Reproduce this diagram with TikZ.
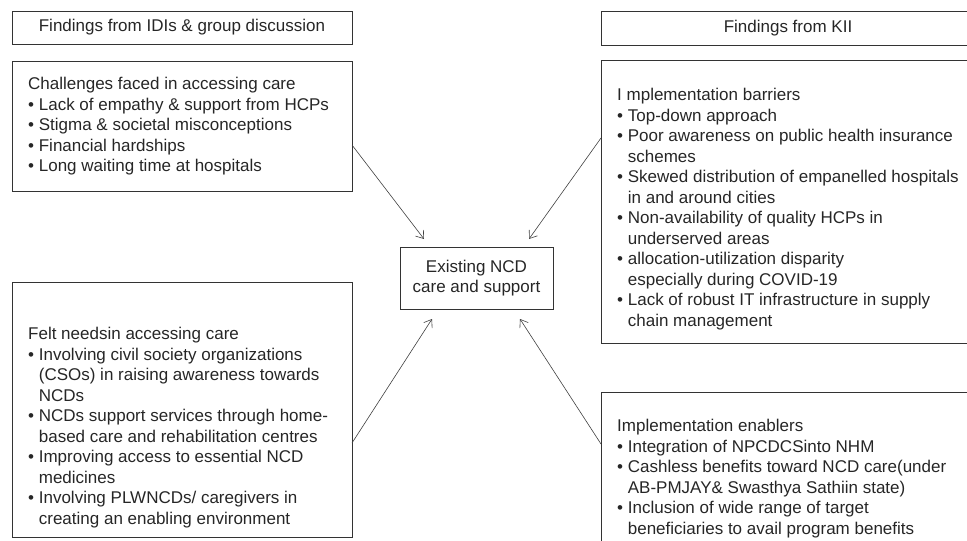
\documentclass[tikz,border=0pt]{standalone}
\usepackage{fontspec}
\setmainfont{Liberation Sans}
\usetikzlibrary{arrows.meta}
\newcommand{\blt}{\textbullet\ }
\newcommand{\bltpad}{\phantom{\textbullet\ }}

\begin{document}
\begin{tikzpicture}[x=1pt,y=-1pt,
    box/.style={draw=black!80,line width=1pt,anchor=north west,inner sep=0pt,outer sep=0pt,
        font=\fontsize{17}{20.5}\selectfont,text=black!85},
    txt/.style={anchor=north west,inner sep=0pt,align=left,
        font=\fontsize{17}{20.5}\selectfont,text=black!85},
    link/.style={draw=black!75,line width=0.6pt,-{Straight Barb[length=7pt,width=10pt]}}]
        \clip (0,0) rectangle (967,541);
        \node[box,minimum width=340,minimum height=33] (hidi) at (12,11) {Findings from IDIs \& group discussion};
        \node[box,minimum width=374,minimum height=34] (hkii) at (601,11) {Findings from KII};
        \node[box,minimum width=340,minimum height=130] (chal) at (12,61) {};
        \node[box,minimum width=374,minimum height=283] (bar) at (601,60) {};
        \node[box,minimum width=340,minimum height=255] (felt) at (12,282) {};
        \node[box,minimum width=374,minimum height=170] (enab) at (601,392) {};
        \node[box,minimum width=153,minimum height=62,align=center] (core) at (400,247) {Existing NCD\\care and support};
        \node[txt] (chaltxt) at (28,77) {Challenges faced in accessing care\\
            \blt Lack of empathy \& support from HCPs\\
            \blt Stigma \& societal misconceptions\\
            \blt Financial hardships\\
            \blt Long waiting time at hospitals};
        \node[txt] (bartxt) at (617,88) {I mplementation barriers\\
            \blt Top-down approach\\
            \blt Poor awareness on public health insurance\\
            \bltpad schemes\\
            \blt Skewed distribution of empanelled hospitals\\
            \bltpad in and around cities\\
            \blt Non-availability of quality HCPs in\\
            \bltpad underserved areas\\
            \blt allocation-utilization disparity\\
            \bltpad especially during COVID-19\\
            \blt Lack of robust IT infrastructure in supply\\
            \bltpad chain management};
        \node[txt] (felttxt) at (28,327) {Felt needsin accessing care\\
            \blt Involving civil society organizations\\
            \bltpad (CSOs) in raising awareness towards\\
            \bltpad NCDs\\
            \blt NCDs support services through home-\\
            \bltpad based care and rehabilitation centres\\
            \blt Improving access to essential NCD\\
            \bltpad medicines\\
            \blt Involving PLWNCDs/ caregivers in\\
            \bltpad creating an enabling environment};
        \node[txt] (enabtxt) at (617,419) {Implementation enablers\\
            \blt Integration of NPCDCSinto NHM\\
            \blt Cashless benefits toward NCD care(under\\
            \bltpad AB-PMJAY\& Swasthya Sathiin state)\\
            \blt Inclusion of wide range of target\\
            \bltpad beneficiaries to avail program benefits};
        \draw[link] ([yshift=-84pt]chal.north east) -- ([xshift=24pt,yshift=8pt]core.north west);
        \draw[link] ([yshift=-78pt]bar.north west) -- ([xshift=-24pt,yshift=8pt]core.north east);
        \draw[link] ([yshift=-161pt]felt.north east) -- ([xshift=32pt,yshift=-10pt]core.south west);
        \draw[link] ([yshift=-52pt]enab.north west) -- ([xshift=-33pt,yshift=-10pt]core.south east);
    \end{tikzpicture}
\end{document}
